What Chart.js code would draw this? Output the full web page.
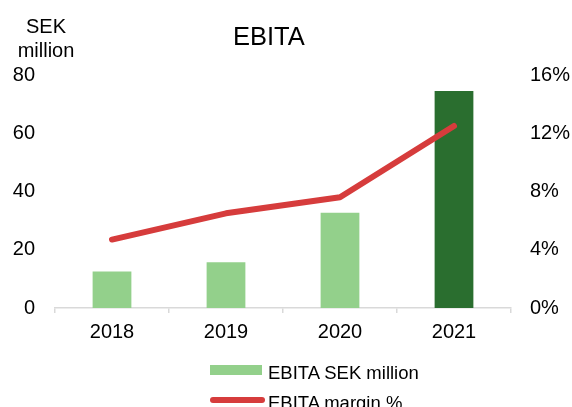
<!DOCTYPE html>
<html>
<head>
<meta charset="utf-8">
<script src="https://cdn.jsdelivr.net/npm/chart.js@4.4.1/dist/chart.umd.min.js"></script>
<style>
  html, body { margin: 0; padding: 0; background: #fff; overflow: hidden; }
  #wrap { position: relative; width: 572px; height: 407px; font-family: "Liberation Sans", Arial, sans-serif; color: #000; }
  #chart { position: absolute; left: 0; top: 0; }
  .title { position: absolute; left: 233px; top: 24px; font-size: 25.5px; line-height: 1; }
  .unit { position: absolute; left: 6px; top: 14px; width: 80px; text-align: center; font-size: 20px; line-height: 24px; }
  .legend { position: absolute; left: 208px; font-size: 18.5px; line-height: 1; }
  .legend div { position: relative; height: 30px; padding-left: 60px; }
  .sw { position: absolute; left: 2px; }
  .sw.bar { top: 1px; width: 52px; height: 10px; background: #93d08b; }
  .sw.line { width: 55px; height: 6px; border-radius: 3px; background: #d63c3c; }
</style>
</head>
<body>
<div id="wrap">
  <canvas id="chart" width="572" height="407"></canvas>
  <div class="unit">SEK<br>million</div>
  <div class="title">EBITA</div>
  <div class="legend" style="top:364px">
    <div><span class="sw bar"></span>EBITA SEK million</div>
    <div><span class="sw line" style="top:3px"></span>EBITA margin %</div>
  </div>
</div>
<script>
// valores
const years = ["2018", "2019", "2020", "2021"];
const ebitaSek = [12.5, 15.7, 32.7, 74.5];
const ebitaMargin = [4.7, 6.5, 7.6, 12.5];
const barColors = ["#93d08b", "#93d08b", "#93d08b", "#2a6e2f"];

const tickFont = { family: "'Liberation Sans', Arial, sans-serif", size: 20 };

const ctx = document.getElementById("chart");

new Chart(ctx, {
  type: "bar",
  data: {
    labels: years,
    datasets: [
      {
        type: "line",
        label: "EBITA margin %",
        data: ebitaMargin,
        yAxisID: "y1",
        borderColor: "#d63c3c",
        borderWidth: 6,
        borderCapStyle: "round",
        borderJoinStyle: "round",
        pointRadius: 0,
        tension: 0,
        order: 0
      },
      {
        label: "EBITA SEK million",
        data: ebitaSek,
        yAxisID: "y",
        backgroundColor: barColors,
        barPercentage: 0.34,
        categoryPercentage: 1,
        order: 1
      }
    ]
  },
  options: {
    responsive: false,
    animation: false,
    layout: { padding: { top: 75, bottom: 59, left: 0, right: 0 } },
    plugins: {
      legend: { display: false },
      tooltip: { enabled: false }
    },
    scales: {
      x: {
        offset: true,
        grid: {
          offset: true,
          drawOnChartArea: false,
          color: "#d9d9d9",
          lineWidth: 1.5,
          tickLength: 5
        },
        border: { color: "#d9d9d9", width: 1.5 },
        ticks: { color: "#000", font: tickFont, padding: 7 },
        afterFit: (s) => { s.height = 40; }
      },
      y: {
        position: "left",
        min: 0,
        max: 80,
        grid: { display: false, drawTicks: false },
        border: { display: false },
        ticks: { stepSize: 20, color: "#000", font: tickFont, padding: 20 },
        afterFit: (s) => { s.width = 55; }
      },
      y1: {
        position: "right",
        min: 0,
        max: 16,
        grid: { display: false, drawTicks: false },
        border: { display: false },
        ticks: {
          stepSize: 4,
          color: "#000",
          font: tickFont,
          padding: 19,
          callback: (v) => v + "%"
        },
        afterFit: (s) => { s.width = 61; }
      }
    }
  }
});
</script>
</body>
</html>
